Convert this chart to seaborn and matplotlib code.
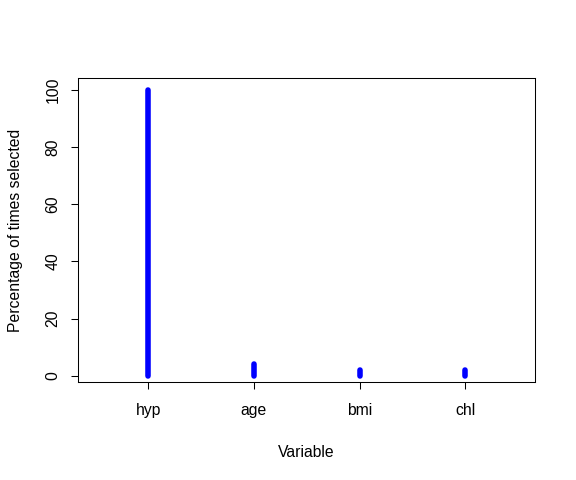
import pandas as pd
import matplotlib
matplotlib.use("Agg")
import matplotlib.pyplot as plt
import seaborn as sns

# Selection frequency per variable
variables = ["hyp", "age", "bmi", "chl"]
percent_selected = [100, 4, 2, 2]

# long format: each variable gets a line from 0 up to its value
rows = []
for i, (v, p) in enumerate(zip(variables, percent_selected)):
    rows.append({"pos": i + 1, "variable": v, "pct": 0})
    rows.append({"pos": i + 1, "variable": v, "pct": p})
df = pd.DataFrame(rows)

sns.set_style("ticks")
plt.rcParams["font.family"] = ["Liberation Sans", "DejaVu Sans"]
fs = 11.3
plt.rcParams["font.size"] = fs
plt.rcParams["text.color"] = "black"
plt.rcParams["axes.labelcolor"] = "black"

fig = plt.figure(figsize=(5.76, 4.8), dpi=100)
ax = fig.add_axes([0.136, 0.205, 0.793, 0.632])

sns.lineplot(data=df, x="pos", y="pct", units="variable", estimator=None,
             color="#0000ff", linewidth=4, solid_capstyle="round",
             legend=False, ax=ax)

ax.set_xlim(0.34, 4.66)
ax.set_ylim(-2.07, 104.1)
ax.set_xticks(range(1, len(variables) + 1))
ax.set_xticklabels(variables)
ax.set_yticks([0, 20, 40, 60, 80, 100])
ax.set_yticklabels(["0", "20", "40", "60", "80", "100"], rotation=90, va="center")

ax.tick_params(axis="both", length=5, width=0.75, color="black",
               labelsize=fs, labelcolor="black")
ax.tick_params(axis="x", pad=10.5)
ax.tick_params(axis="y", pad=8)

for s in ax.spines.values():
    s.set_visible(True)
    s.set_color("black")
    s.set_linewidth(0.75)

ax.set_xlabel("Variable", fontsize=fs, labelpad=19, color="black")
ax.set_ylabel("Percentage of times selected", fontsize=fs, labelpad=16, color="black")

fig.savefig("out.png", dpi=100)
